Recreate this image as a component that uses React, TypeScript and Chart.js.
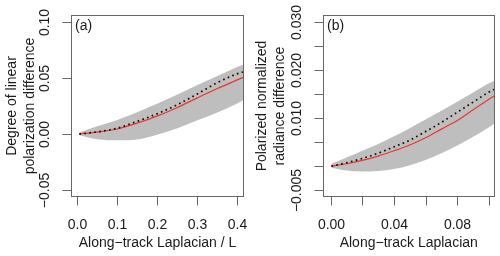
import React, { useEffect, useRef } from "react";
import { Chart, registerables } from "chart.js";
Chart.register(...registerables);

// ---- Panel (a) data ----
const xA = [0.005, 0.05, 0.1, 0.15, 0.2, 0.25, 0.3, 0.35, 0.4, 0.42];
const redA = [0, 0.0018, 0.0045, 0.0097, 0.016, 0.0235, 0.032, 0.0403, 0.048, 0.051];
const dotA = [0, 0.002, 0.0052, 0.0113, 0.018, 0.026, 0.0355, 0.0455, 0.0535, 0.0557];
const upperA = [0.0015, 0.007, 0.0125, 0.0195, 0.027, 0.035, 0.0435, 0.0515, 0.0595, 0.0625];
const lowerA = [-0.001, -0.0045, -0.0055, -0.0048, -0.0005, 0.005, 0.012, 0.019, 0.027, 0.031];
const xTicksA = [0, 0.1, 0.2, 0.3, 0.4];
const xLabelsA = ["0.0", "0.1", "0.2", "0.3", "0.4"];
const yTicksA = [-0.05, 0, 0.05, 0.1];
const yLabelsA = ["\u22120.05", "0.00", "0.05", "0.10"];

// ---- Panel (b) data ----
const xB = [0.0005, 0.01, 0.02, 0.03, 0.04, 0.05, 0.06, 0.07, 0.08, 0.09, 0.1, 0.105];
const redB = [0, 0.0005, 0.0012, 0.0021, 0.0032, 0.0044, 0.0059, 0.0077, 0.0095, 0.0117, 0.0139, 0.0149];
const dotB = [0, 0.0007, 0.0016, 0.0027, 0.004, 0.0054, 0.0072, 0.0091, 0.0112, 0.0133, 0.0154, 0.0162];
const upperB = [0.0005, 0.0018, 0.0032, 0.0046, 0.0062, 0.0079, 0.0097, 0.0115, 0.0134, 0.0153, 0.0172, 0.018];
const lowerB = [-0.0003, -0.0009, -0.0011, -0.001, -0.0006, 0.0002, 0.0013, 0.0027, 0.0043, 0.0061, 0.0081, 0.0092];
const xTicksB = [0, 0.02, 0.04, 0.06, 0.08, 0.1];
const xLabelsB = ["0.00", "", "0.04", "", "0.08", ""];
const yTicksB = [-0.005, 0, 0.005, 0.01, 0.015, 0.02, 0.025, 0.03];
const yLabelsB = ["\u22120.005", "", "", "0.010", "", "0.020", "", "0.030"];

const FONT = '14px "Liberation Sans", Arial, sans-serif';
const TXT = "#1a1a1a";
const AXC = "#666666";

type Cfg = {
  tag: string;
  xs: number[];
  red: number[];
  dot: number[];
  upper: number[];
  lower: number[];
  xMin: number;
  xMax: number;
  yMin: number;
  yMax: number;
  xTicks: number[];
  xLabels: string[];
  yTicks: number[];
  yLabels: string[];
  xTitle: string;
  yTitle: string[];
  padLeft: number;
  padRight: number;
};

function Panel({ cfg }: { cfg: Cfg }) {
  const ref = useRef<HTMLCanvasElement>(null);
  useEffect(() => {
    const pts = (ys: number[]) => cfg.xs.map((x, i) => ({ x, y: ys[i] }));
    const axesPlugin = {
      id: "rAxes",
      afterDraw(chart: any) {
        const { ctx, chartArea } = chart;
        const { left, right, top, bottom } = chartArea;
        const xs = chart.scales.x;
        const ys = chart.scales.y;
        ctx.save();
        ctx.strokeStyle = AXC;
        ctx.lineWidth = 1;
        const L = Math.round(left) + 0.5;
        const R = Math.round(right) - 0.5;
        const T = Math.round(top) + 0.5;
        const B = Math.round(bottom) - 0.5;
        ctx.strokeRect(L, T, R - L, B - T);
        ctx.fillStyle = TXT;
        ctx.font = FONT;
        // x ticks
        cfg.xTicks.forEach((v, i) => {
          const px = Math.round(xs.getPixelForValue(v)) + 0.5;
          ctx.beginPath();
          ctx.moveTo(px, B);
          ctx.lineTo(px, B + 9);
          ctx.stroke();
          if (cfg.xLabels[i]) {
            ctx.textAlign = "center";
            ctx.textBaseline = "middle";
            ctx.fillText(cfg.xLabels[i], px, 225);
          }
        });
        // y ticks
        cfg.yTicks.forEach((v, i) => {
          const py = Math.round(ys.getPixelForValue(v)) + 0.5;
          ctx.beginPath();
          ctx.moveTo(L, py);
          ctx.lineTo(L - 9, py);
          ctx.stroke();
          if (cfg.yLabels[i]) {
            ctx.save();
            ctx.translate(left - 25.5, py);
            ctx.rotate(-Math.PI / 2);
            ctx.textAlign = "center";
            ctx.textBaseline = "middle";
            ctx.fillText(cfg.yLabels[i], 0, 0);
            ctx.restore();
          }
        });
        // x title
        ctx.textAlign = "center";
        ctx.textBaseline = "middle";
        ctx.fillText(cfg.xTitle, (left + right) / 2, 243);
        // y title (two lines)
        const cy = (top + bottom) / 2;
        [12, 30].forEach((x, i) => {
          ctx.save();
          ctx.translate(x, cy);
          ctx.rotate(-Math.PI / 2);
          ctx.textAlign = "center";
          ctx.textBaseline = "middle";
          ctx.fillText(cfg.yTitle[i], 0, 0);
          ctx.restore();
        });
        // panel tag
        ctx.textAlign = "left";
        ctx.textBaseline = "middle";
        ctx.fillText(cfg.tag, left + 4, 26);
        ctx.restore();
      },
    };
    const chart = new Chart(ref.current!, {
      type: "line",
      data: {
        datasets: [
          {
            data: pts(cfg.dot),
            borderColor: "#111111",
            borderWidth: 1.7,
            borderDash: [1.7, 3.3],
            pointRadius: 0,
            fill: false,
            cubicInterpolationMode: "monotone",
          },
          {
            data: pts(cfg.red),
            borderColor: "#ee3333",
            borderWidth: 1.2,
            pointRadius: 0,
            fill: false,
            cubicInterpolationMode: "monotone",
          },
          {
            data: pts(cfg.upper),
            borderColor: "rgba(0,0,0,0)",
            borderWidth: 0,
            backgroundColor: "#bebebe",
            pointRadius: 0,
            fill: "+1",
            cubicInterpolationMode: "monotone",
          },
          {
            data: pts(cfg.lower),
            borderColor: "rgba(0,0,0,0)",
            borderWidth: 0,
            pointRadius: 0,
            fill: false,
            cubicInterpolationMode: "monotone",
          },
        ],
      },
      options: {
        animation: false,
        responsive: false,
        devicePixelRatio: 1,
        layout: { padding: { left: cfg.padLeft, right: cfg.padRight, top: 15, bottom: 59 } },
        plugins: { legend: { display: false }, tooltip: { enabled: false } },
        scales: {
          x: { type: "linear", min: cfg.xMin, max: cfg.xMax, display: false },
          y: { type: "linear", min: cfg.yMin, max: cfg.yMax, display: false },
        },
      },
      plugins: [axesPlugin],
    } as any);
    return () => chart.destroy();
  }, [cfg]);
  return <canvas ref={ref} width={250} height={256} style={{ display: "block" }} />;
}

const cfgA: Cfg = {
  tag: "(a)",
  xs: xA,
  red: redA,
  dot: dotA,
  upper: upperA,
  lower: lowerA,
  xMin: -0.0158,
  xMax: 0.4183,
  yMin: -0.056,
  yMax: 0.106,
  xTicks: xTicksA,
  xLabels: xLabelsA,
  yTicks: yTicksA,
  yLabels: yLabelsA,
  xTitle: "Along\u2212track Laplacian / L",
  yTitle: ["Degree of linear", "polarization difference"],
  padLeft: 71,
  padRight: 6,
};

const cfgB: Cfg = {
  tag: "(b)",
  xs: xB,
  red: redB,
  dot: dotB,
  upper: upperB,
  lower: lowerB,
  xMin: -0.0048,
  xMax: 0.1035,
  yMin: -0.0064,
  yMax: 0.0314,
  xTicks: xTicksB,
  xLabels: xLabelsB,
  yTicks: yTicksB,
  yLabels: yLabelsB,
  xTitle: "Along\u2212track Laplacian",
  yTitle: ["Polarized normalized", "radiance difference"],
  padLeft: 73,
  padRight: 5.5,
};

export default function App() {
  return (
    <div
      style={{
        position: "fixed",
        left: 0,
        top: 0,
        width: 500,
        height: 256,
        display: "flex",
        background: "#ffffff",
      }}
    >
      <Panel cfg={cfgA} />
      <Panel cfg={cfgB} />
    </div>
  );
}
